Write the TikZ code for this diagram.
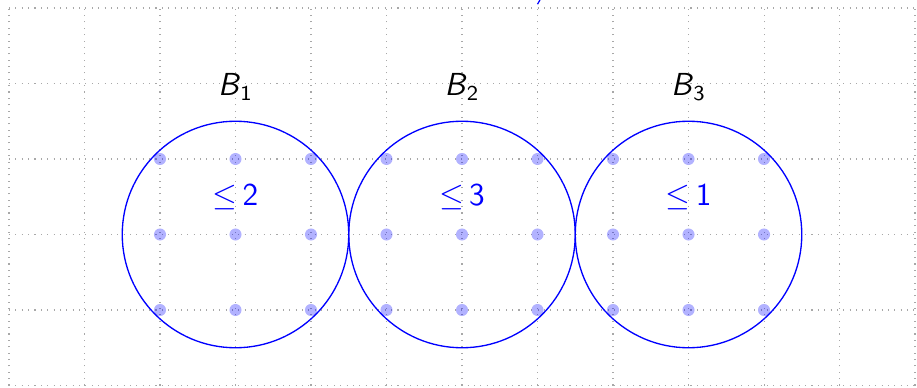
\documentclass[tikz,border=0pt]{standalone}
\usepackage{xcolor}
\usepackage{tikz}
\usetikzlibrary{positioning}
\definecolor{ballblue}{HTML}{0000FF}
\definecolor{gridgray}{HTML}{A8A8A8}

\begin{document}
\begin{tikzpicture}[x=1cm,y=1cm,font=\large\sffamily]
  \useasboundingbox (-0.119,-0.02) rectangle (12.026,5.106);
  \draw[gridgray,dotted,line width=0.4pt] (0,0) grid (12,5);
  \foreach \c/\k/\b in {3/1/2,6/2/3,9/3/1} {
    \draw[ballblue,line width=0.5pt] (\c,2) circle (1.5);
    \foreach \dx in {-1,0,1}
      \foreach \dy in {1,2,3}
        \fill[ballblue,opacity=0.3] (\c+\dx,\dy) circle (0.08);
    \node (ball\k) at (\c,3.95) {\textit{B}$_{\mathsf{\k}}$};
    \node[ballblue] (bound\k) at (\c,2.5) {$\leq$\,\b};
  }
  \draw[ballblue,line width=0.45pt] (7.0,5.05) -- (7.04,5.12);
\end{tikzpicture}
\end{document}
